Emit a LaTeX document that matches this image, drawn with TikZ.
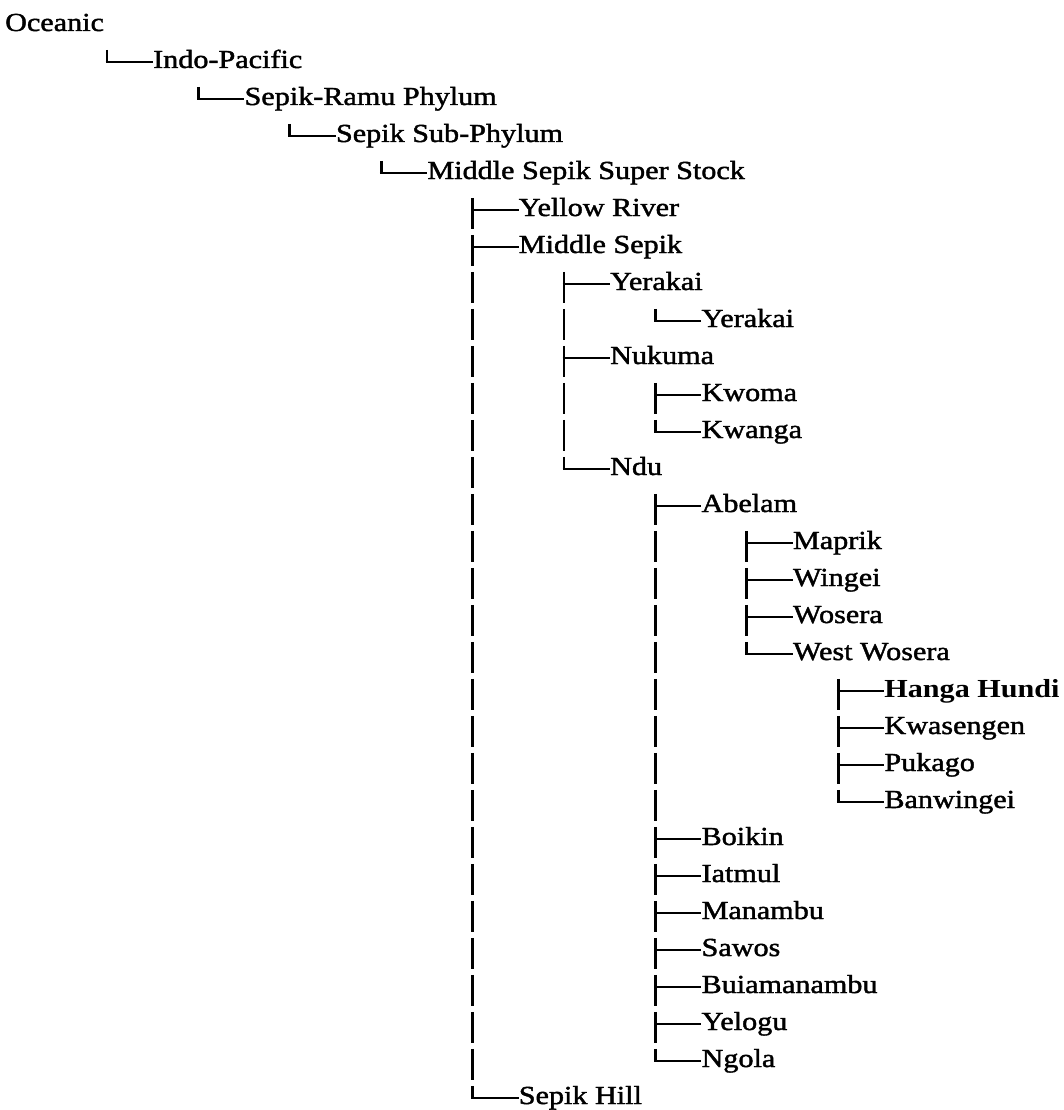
\documentclass[tikz,border=0pt]{standalone}
\usepackage{fontspec}
\setmainfont{Liberation Serif}[FakeStretch=1.16,UprightFeatures={FakeBold=1.6}]
\usetikzlibrary{positioning}

\tikzset{
  taxon/.style={anchor=west,inner sep=0pt,text height=18pt,text depth=6pt,
    font=\fontsize{26}{30}\selectfont},
  stem/.style={line width=2.9pt,dash pattern=on 31pt off 6pt},
  twig/.style={line width=2.5pt,shorten <=-1.4pt}
}

\begin{document}
\begin{tikzpicture}[x=1pt,y=-1pt]
\useasboundingbox (0,0) rectangle (1063,1110);
% root
\node[taxon] (oce) at (5,25) {Oceanic};
% taxa: name/level/row/label
\foreach \name/\lvl/\row/\txt in {
  ind/1/1/Indo-Pacific,
  srp/2/2/Sepik-Ramu Phylum,
  ssp/3/3/Sepik Sub-Phylum,
  mss/4/4/Middle Sepik Super Stock,
  yr/5/5/Yellow River,
  ms/5/6/Middle Sepik,
  yer/6/7/Yerakai,
  yerb/7/8/Yerakai,
  nuk/6/9/Nukuma,
  kwo/7/10/Kwoma,
  kwa/7/11/Kwanga,
  ndu/6/12/Ndu,
  abe/7/13/Abelam,
  map/8/14/Maprik,
  win/8/15/Wingei,
  wos/8/16/Wosera,
  ww/8/17/West Wosera,
  hh/9/18/{\textbf{Hanga Hundi}},
  kws/9/19/Kwasengen,
  puk/9/20/Pukago,
  ban/9/21/Banwingei,
  boi/7/22/Boikin,
  iat/7/23/Iatmul,
  man/7/24/Manambu,
  saw/7/25/Sawos,
  bui/7/26/Buiamanambu,
  yel/7/27/Yelogu,
  ngo/7/28/Ngola,
  sh/5/29/Sepik Hill}
  \node[taxon] (\name) at ({153+91.4*(\lvl-1)},{25+37*\row}) {\txt};

% tree lines: parent/offset/first/last/children
\foreach \p/\dx/\first/\last/\kids in {
  oce/102/ind/ind/{ind},
  ind/45.4/srp/srp/{srp},
  srp/45.4/ssp/ssp/{ssp},
  ssp/45.4/mss/mss/{mss},
  mss/45.4/yr/sh/{yr,ms,sh},
  ms/45.4/yer/ndu/{yer,nuk,ndu},
  yer/45.4/yerb/yerb/{yerb},
  nuk/45.4/kwo/kwa/{kwo,kwa},
  ndu/45.4/abe/ngo/{abe,boi,iat,man,saw,bui,yel,ngo},
  abe/45.4/map/ww/{map,win,wos,ww},
  ww/45.4/hh/ban/{hh,kws,puk,ban}}{
  \coordinate (\p-t) at ([xshift=\dx pt]\p.west);
  \draw[stem] (\p-t |- \first.north) -- (\p-t |- \last.west);
  \foreach \k in \kids
    \draw[twig] (\p-t |- \k.west) -- (\k.west);
}
\end{tikzpicture}
\end{document}
